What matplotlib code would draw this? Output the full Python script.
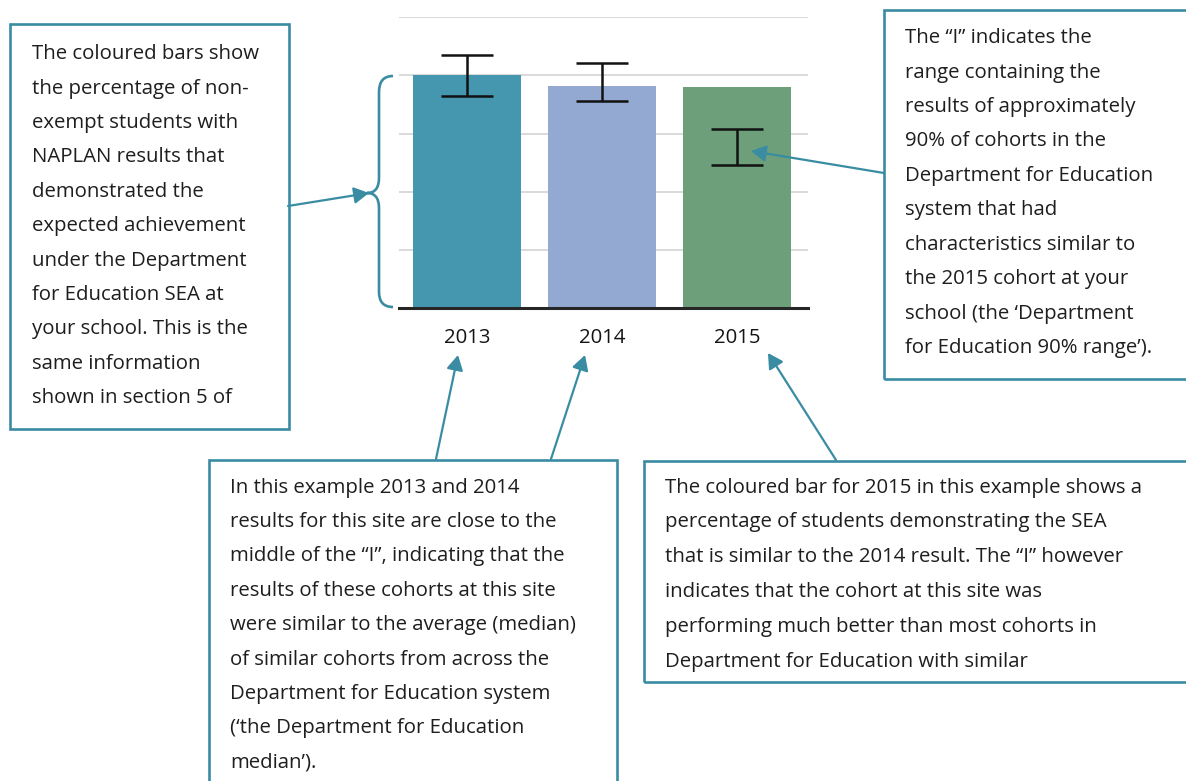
import matplotlib
matplotlib.use("Agg")
import matplotlib.pyplot as plt
from matplotlib.patches import Rectangle, PathPatch, FancyArrowPatch
from matplotlib.path import Path

# data (percent of non-exempt students)
years = ["2013", "2014", "2015"]
pct_sea = [80.2, 76.5, 76.0]
range_low = [73.0, 71.1, 49.3]
range_high = [87.1, 84.4, 61.5]
bar_colors = ["#4596AF", "#94A9D1", "#6DA07A"]

left_note = ["The coloured bars show", "the percentage of non-", "exempt students with",
             "NAPLAN results that", "demonstrated the", "expected achievement",
             "under the Department", "for Education SEA at", "your school. This is the",
             "same information", "shown in section 5 of"]
right_note = ["The \u201cI\u201d indicates the", "range containing the", "results of approximately",
              "90% of cohorts in the", "Department for Education", "system that had",
              "characteristics similar to", "the 2015 cohort at your",
              "school (the \u2018Department", "for Education 90% range\u2019)."]
mid_note = ["In this example 2013 and 2014", "results for this site are close to the",
            "middle of the \u201cI\u201d, indicating that the", "results of these cohorts at this site",
            "were similar to the average (median)", "of similar cohorts from across the",
            "Department for Education system", "(\u2018the Department for Education",
            "median\u2019)."]
low_right_note = ["The coloured bar for 2015 in this example shows a",
                  "percentage of students demonstrating the SEA",
                  "that is similar to the 2014 result. The \u201cI\u201d however",
                  "indicates that the cohort at this site was",
                  "performing much better than most cohorts in",
                  "Department for Education with similar"]

W, H = 1186, 781
TEAL = "#3A8CA3"
TXT = "#1E1E1E"
FONT = "Open Sans"
FS = 14.7

fig = plt.figure(figsize=(W / 100, H / 100), dpi=100)
fig.patch.set_facecolor("white")

# chart
ax = fig.add_axes([399 / W, 1 - 308.3 / H, (808 - 399) / W, (308.3 - 17.3) / H])
x = range(len(years))
ax.bar(x, pct_sea, width=0.8, color=bar_colors, zorder=2)
mid = [(lo + hi) / 2 for lo, hi in zip(range_low, range_high)]
half = [(hi - lo) / 2 for lo, hi in zip(range_low, range_high)]
ax.errorbar(x, mid, yerr=half, fmt="none", ecolor="#111111", elinewidth=1.8,
            capsize=18.5, capthick=1.8, zorder=3)
ax.set_xlim(-0.504, 2.526)
ax.set_ylim(0, 100)
ax.set_yticks([0, 20, 40, 60, 80, 100])
ax.yaxis.grid(True, color="#D9D9D9", linewidth=1.4)
ax.set_axisbelow(True)
ax.tick_params(axis="y", left=False, labelleft=False)
ax.tick_params(axis="x", bottom=False, pad=11)
ax.set_xticks(list(x))
ax.set_xticklabels(years, fontsize=FS, color="#141414", family=FONT)
for s in ["top", "left", "right"]:
    ax.spines[s].set_visible(False)
ax.spines["bottom"].set_color("#262626")
ax.spines["bottom"].set_linewidth(2.2)
ax.spines["bottom"].set_zorder(4)


def fy(y):
    return H - y


def box(x0, y0, x1, y1, lines, tx, base0, step=34.4):
    fig.add_artist(Rectangle((x0, fy(y1)), x1 - x0, y1 - y0, transform=None,
                             fill=False, edgecolor=TEAL, linewidth=1.9))
    for i, line in enumerate(lines):
        fig.text(tx / W, fy(base0 + i * step) / H, line, fontsize=FS, color=TXT,
                 family=FONT, va="baseline", ha="left")


def arrow(x0, y0, x1, y1):
    fig.add_artist(FancyArrowPatch((x0, fy(y0)), (x1, fy(y1)), transform=None,
                                   arrowstyle="-|>,head_length=9,head_width=5",
                                   color=TEAL, linewidth=1.6, shrinkA=0, shrinkB=0))


box(10, 24, 289, 429, left_note, 32, 59.3)
box(884, 10, 1200, 379, right_note, 905, 43.3)
box(209, 460, 617, 800, mid_note, 230, 492.7)
box(644, 461, 1200, 682, low_right_note, 665, 492.7, step=34.8)

# curly brace next to the bars
verts = [(393, 76), (379, 76), (379, 92),
         (379, 178),
         (379, 193), (367, 193),
         (379, 193), (379, 208),
         (379, 292),
         (379, 307), (393, 307)]
codes = [Path.MOVETO, Path.CURVE3, Path.CURVE3, Path.LINETO,
         Path.CURVE3, Path.CURVE3, Path.CURVE3, Path.CURVE3,
         Path.LINETO, Path.CURVE3, Path.CURVE3]
fig.add_artist(PathPatch(Path([(vx, fy(vy)) for vx, vy in verts], codes),
                         transform=None, fill=False, edgecolor=TEAL, linewidth=1.9))

arrow(288, 206, 369, 193)
arrow(884, 173, 751, 151)
arrow(436, 459, 458, 355)
arrow(551, 459, 585, 355)
arrow(836, 460, 768, 353)

fig.savefig("out.png", dpi=100)
